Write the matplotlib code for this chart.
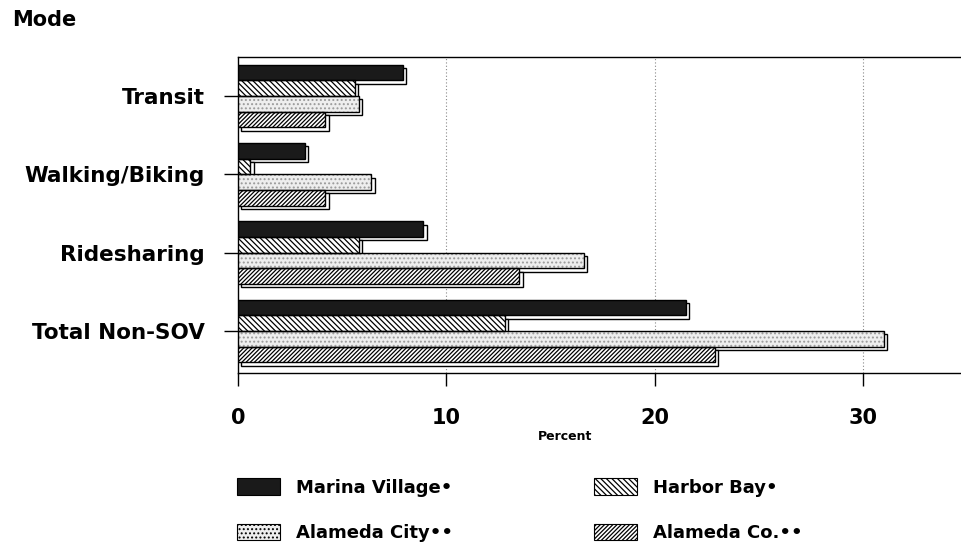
import matplotlib.pyplot as plt
import matplotlib.transforms as mtransforms
from matplotlib.patches import Patch
import numpy as np

plt.rcParams["font.family"] = ["DejaVu Sans"]
plt.rcParams["font.weight"] = "bold"
plt.rcParams["hatch.linewidth"] = 0.9

# Data (percent of trips by mode)
modes = ["Transit", "Walking/Biking", "Ridesharing", "Total Non-SOV"]
marina_village = [7.9, 3.2, 8.9, 21.5]
harbor_bay = [5.6, 0.6, 5.8, 12.8]
alameda_city = [5.8, 6.4, 16.6, 31.0]
alameda_co = [4.2, 4.2, 13.5, 22.9]
xticks = [0, 10, 20, 30]

series = [
    ("Marina Village\u2022", marina_village, dict(facecolor="#1a1a1a", hatch=None)),
    ("Harbor Bay\u2022", harbor_bay, dict(facecolor="white", hatch="\\" * 6)),
    ("Alameda City\u2022\u2022", alameda_city, dict(facecolor="#eeeeee", hatch="....")),
    ("Alameda Co.\u2022\u2022", alameda_co, dict(facecolor="white", hatch="/" * 8)),
]

fig = plt.figure(figsize=(9.61, 5.44), dpi=100)
ax = fig.add_axes([238 / 961, 1 - 373 / 544, 723 / 961, 316 / 544])

y = np.arange(len(modes))
h = 0.2
offsets = [-1.5 * h, -0.5 * h, 0.5 * h, 1.5 * h]

# drop shadow offset
shadow = mtransforms.ScaledTranslation(2.5 / 72, -2.5 / 72, fig.dpi_scale_trans)

for (label, vals, st), off in zip(series, offsets):
    sh = ax.barh(y + off, vals, height=h, color="white", edgecolor="black",
                 linewidth=1.0, zorder=2)
    for p in sh:
        p.set_transform(ax.transData + shadow)
    hatch_ec = "#9a9a9a" if st["hatch"] == "...." else "black"
    ax.barh(y + off, vals, height=h, facecolor=st["facecolor"], hatch=st["hatch"],
            edgecolor=hatch_ec, linewidth=0.0, zorder=3)
    ax.barh(y + off, vals, height=h, fill=False, edgecolor="black",
            linewidth=1.0, zorder=4)

ax.set_xlim(0, 723 / 20.83)
ax.set_ylim(3.536, -0.498)
ax.set_yticks(y)
ax.set_yticklabels(modes, fontsize=15.5)
ax.set_xticks(xticks)
ax.set_xticklabels([str(t) for t in xticks], fontsize=15)
ax.tick_params(axis="y", length=10, width=1, pad=14)
ax.tick_params(axis="x", length=9, width=1, pad=16)

for t in xticks[1:]:
    ax.axvline(t, color="#888888", linestyle=(0, (1, 2)), linewidth=0.8, zorder=1)

ax.spines["right"].set_visible(False)
for s in ["left", "bottom", "top"]:
    ax.spines[s].set_linewidth(1.0)

fig.text(12 / 961, 1 - 20 / 544, "Mode", fontsize=15, va="center", ha="left")
fig.text(565 / 961, 1 - 437 / 544, "Percent", fontsize=9, va="center", ha="center")

handles = [
    Patch(facecolor=st["facecolor"], hatch=st["hatch"], edgecolor="black",
          linewidth=0.8, label=label)
    for label, vals, st in series
]
leg_kw = dict(loc="upper left", frameon=False, fontsize=13, handlelength=2.4,
              handleheight=1.05, handletextpad=0.85, labelspacing=1.5,
              borderaxespad=0, borderpad=0)
leg1 = fig.legend(handles=[handles[0], handles[2]], bbox_to_anchor=(237 / 961, 1 - 478 / 544), **leg_kw)
leg2 = fig.legend(handles=[handles[1], handles[3]], bbox_to_anchor=(594 / 961, 1 - 478 / 544), **leg_kw)

plt.savefig("out.png", dpi=100)
